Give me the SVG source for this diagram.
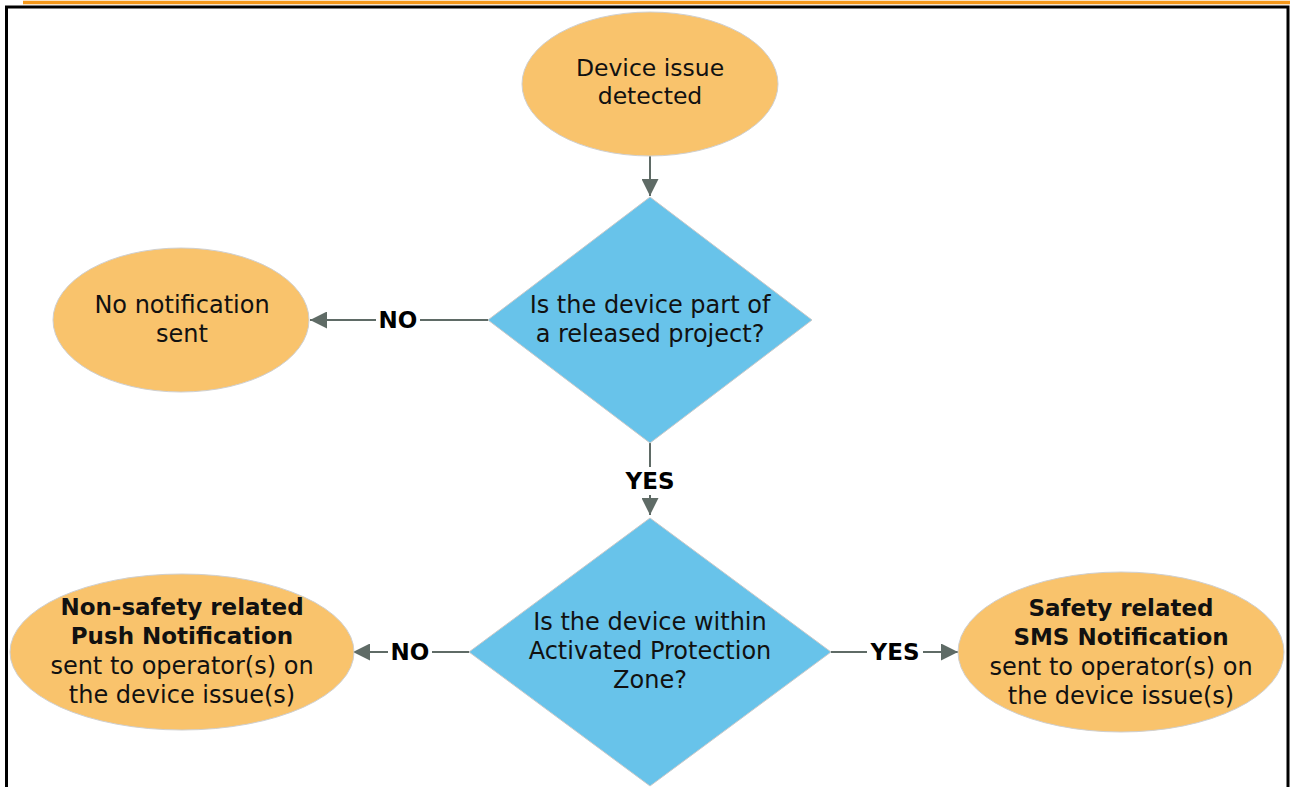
<svg xmlns="http://www.w3.org/2000/svg" width="1290" height="787" viewBox="0 0 1290 787">
<defs>
<style>
.term{fill:#f9c36c;stroke:#cfcfcf;stroke-width:1}
.dec{fill:#68c3ea;stroke:#c9c9c9;stroke-width:1}
text{font-family:"DejaVu Sans","Verdana",sans-serif;font-size:24px;fill:#111;text-anchor:middle}
.s{font-size:23.5px}
.b{font-weight:bold;font-size:23px}
.conn{stroke:#5f6b66;stroke-width:2;fill:none}
.lbl{font-weight:bold;font-size:23px;fill:#000}
.bg{fill:#fff}
</style>
<marker id="ah" markerWidth="17" markerHeight="17" refX="17" refY="8.5" orient="auto" markerUnits="userSpaceOnUse">
<path d="M0,0 L17,8.5 L0,17 Z" fill="#5f6b66"/>
</marker>
</defs>
<rect width="1290" height="787" fill="#fff"/>
<line x1="23" y1="2.5" x2="1290" y2="2.5" stroke="#f5981a" stroke-width="3.5"/>
<path d="M6.5,787 V7 H1288 V787" fill="none" stroke="#000" stroke-width="3"/>

<g id="connectors">
<line class="conn" x1="650" y1="156" x2="650" y2="196" marker-end="url(#ah)"/>
<line class="conn" x1="488" y1="320" x2="310" y2="320" marker-end="url(#ah)"/>
<rect class="bg" x="376" y="306" width="44" height="28"/>
<text class="lbl" x="398" y="328">NO</text>
<line class="conn" x1="650" y1="443" x2="650" y2="515" marker-end="url(#ah)"/>
<rect class="bg" x="622" y="467" width="56" height="28"/>
<text class="lbl" x="650" y="489">YES</text>
<line class="conn" x1="469" y1="652" x2="353" y2="652" marker-end="url(#ah)"/>
<rect class="bg" x="388" y="638" width="44" height="28"/>
<text class="lbl" x="410" y="660">NO</text>
<line class="conn" x1="831" y1="652" x2="958" y2="652" marker-end="url(#ah)"/>
<rect class="bg" x="867" y="638" width="56" height="28"/>
<text class="lbl" x="895" y="660">YES</text>
</g>

<g id="start">
<ellipse class="term" cx="650" cy="84" rx="128" ry="72"/>
<text class="s" x="650" y="76">Device issue</text>
<text class="s" x="650" y="104">detected</text>
</g>

<g id="decision1">
<polygon class="dec" points="650,197 812,320 650,443 488,320"/>
<text x="650" y="313">Is the device part of</text>
<text x="650" y="342">a released project?</text>
</g>

<g id="no-notification">
<ellipse class="term" cx="181" cy="320" rx="128" ry="72"/>
<text x="182" y="313">No notification</text>
<text x="182" y="342">sent</text>
</g>

<g id="decision2">
<polygon class="dec" points="650,518 831,652 650,786 469,652"/>
<text x="650" y="630">Is the device within</text>
<text x="650" y="659">Activated Protection</text>
<text x="650" y="688">Zone?</text>
</g>

<g id="push-notification">
<ellipse class="term" cx="182" cy="652" rx="172" ry="78"/>
<text class="b" x="182" y="615">Non-safety related</text>
<text class="b" x="182" y="644">Push Notification</text>
<text x="182" y="674">sent to operator(s) on</text>
<text x="182" y="703">the device issue(s)</text>
</g>

<g id="sms-notification">
<ellipse class="term" cx="1121" cy="652" rx="163" ry="80"/>
<text class="b" x="1121" y="616">Safety related</text>
<text class="b" x="1121" y="645">SMS Notification</text>
<text x="1121" y="675">sent to operator(s) on</text>
<text x="1121" y="704">the device issue(s)</text>
</g>
</svg>
